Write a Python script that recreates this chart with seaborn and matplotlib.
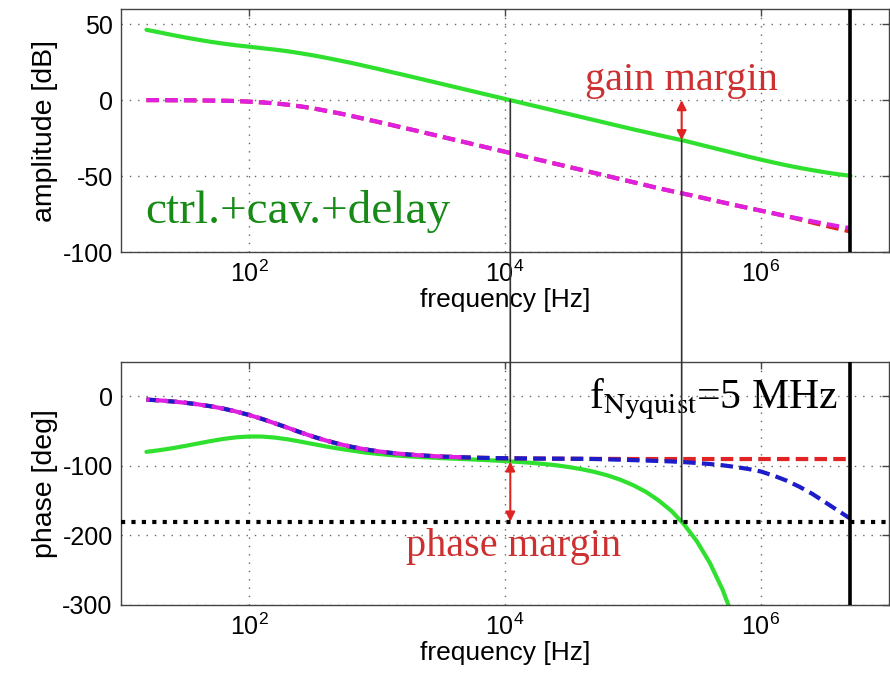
import numpy as np
import pandas as pd
import matplotlib
matplotlib.use("Agg")
import matplotlib.pyplot as plt
import matplotlib.ticker as mticker
from matplotlib.patches import ConnectionPatch
import seaborn as sns

# Frequency grid [Hz]
freq_hz = [15.8, 20.0, 25.1, 31.6, 39.8, 50.1, 63.1, 79.4,
           100, 126, 158, 200, 251, 316, 398, 501, 631, 794,
           1000, 1259, 1585, 1995, 2512, 3162, 3981, 5012, 6310, 7943,
           1.0e4, 1.26e4, 1.58e4, 2.0e4, 2.51e4, 3.16e4, 3.98e4, 5.01e4, 6.31e4, 7.94e4,
           1.0e5, 1.26e5, 1.58e5, 2.0e5, 2.51e5, 3.16e5, 3.98e5, 5.01e5, 6.31e5, 7.94e5,
           1.0e6, 1.26e6, 1.58e6, 2.0e6, 2.51e6, 3.16e6, 3.98e6, 5.0e6]

# Amplitude [dB]
amp_open_loop = [46.3, 44.6, 42.9, 41.3, 39.8, 38.4, 37.2, 36.1,
                 35.2, 34.2, 33.3, 32.2, 30.9, 29.5, 27.9, 26.2, 24.5, 22.6,
                 20.7, 18.7, 16.8, 14.8, 12.8, 10.8, 8.8, 6.8, 4.8, 2.8,
                 0.8, -1.2, -3.2, -5.2, -7.2, -9.2, -11.2, -13.2, -15.2, -17.2,
                 -19.2, -21.1, -23.0, -24.9, -26.7, -28.8, -30.9, -33.0, -35.1, -37.2,
                 -39.2, -41.1, -42.9, -44.6, -46.1, -47.5, -48.8, -49.8]
amp_cav_sampled = [0.0, 0.0, -0.1, -0.1, -0.2, -0.3, -0.4, -0.6,
                   -1.0, -1.5, -2.1, -3.0, -4.1, -5.4, -7.0, -8.6, -10.4, -12.3,
                   -14.2, -16.1, -18.1, -20.0, -22.0, -24.0, -26.0, -28.0, -30.0, -32.0,
                   -34.0, -36.0, -38.0, -40.0, -42.0, -44.0, -46.0, -48.0, -50.0, -52.0,
                   -54.0, -56.0, -58.0, -59.9, -61.7, -63.5, -65.4, -67.3, -69.2, -71.0,
                   -72.8, -74.6, -76.4, -78.1, -79.8, -81.4, -83.0, -84.3]
amp_cav = [0.0, 0.0, -0.1, -0.1, -0.2, -0.3, -0.4, -0.6,
           -1.0, -1.5, -2.1, -3.0, -4.1, -5.4, -7.0, -8.6, -10.4, -12.3,
           -14.2, -16.1, -18.1, -20.0, -22.0, -24.0, -26.0, -28.0, -30.0, -32.0,
           -34.0, -36.0, -38.0, -40.0, -42.0, -44.0, -46.0, -48.0, -50.0, -52.0,
           -54.0, -56.0, -58.0, -59.9, -61.7, -63.5, -65.4, -67.3, -69.2, -71.0,
           -72.8, -74.6, -76.4, -78.5, -80.6, -82.6, -84.6, -86.5]

# Phase [deg]
phase_cav = [-4.5, -5.7, -7.2, -9.0, -11.3, -14.1, -17.5, -21.7,
             -26.6, -32.2, -38.4, -44.9, -51.5, -57.7, -63.3, -68.2, -72.4, -75.9,
             -78.7, -81.0, -82.8, -84.3, -85.4, -86.4, -87.1, -87.7, -88.2, -88.6,
             -88.9, -89.1, -89.3, -89.4, -89.5, -89.6, -89.7, -89.8, -89.8, -89.9,
             -90.0, -90.0, -90.0, -90.0, -90.0, -90.0, -90.0, -90.0, -90.0, -90.0,
             -90.0, -90.0, -90.0, -90.0, -90.0, -90.0, -90.0, -90.0]
phase_cav_delay = [-4.5, -5.7, -7.2, -9.0, -11.3, -14.1, -17.5, -21.7,
                   -26.6, -32.2, -38.4, -44.9, -51.5, -57.7, -63.3, -68.2, -72.4, -75.9,
                   -78.7, -81.0, -82.8, -84.3, -85.4, -86.4, -87.1, -87.7, -88.2, -88.6,
                   -88.9, -89.1, -89.3, -89.4, -89.5, -89.6, -89.7, -90.0, -90.5, -91.0,
                   -91.6, -92.2, -92.8, -93.5, -94.5, -95.7, -97.2, -99.0, -101.4, -104.3,
                   -108.0, -114.0, -121.0, -130.0, -140.0, -152.0, -164.0, -176.0]
phase_cav_sampled = [-4.5, -5.7, -7.2, -9.0, -11.3, -14.1, -17.5, -21.7,
                     -26.6, -32.2, -38.4, -44.9, -51.5, -57.7, -63.3, -68.2, -72.4, -75.9,
                     -78.7, -81.0, -82.8, -84.3, -85.4, -86.4, -87.1, -87.7]
phase_open_loop = [-79.7, -77.3, -74.5, -71.2, -67.7, -64.2, -61.1, -58.8,
                   -57.6, -57.7, -59.1, -61.6, -64.9, -68.4, -71.9, -75.0, -77.8, -80.5,
                   -82.5, -84.2, -85.6, -86.8, -87.7, -88.7, -89.5, -90.3, -91.1, -92.0,
                   -93.0, -94.1, -95.4, -97.1, -99.0, -101.6, -104.7, -108.6, -113.5, -119.7,
                   -127.5, -137.2, -149.4, -164.8, -184.2, -208.6, -239.3, -278.0, -326.6]

# Stability margins
f_gain_cross = 1.1e4       # |L| = 0 dB
phase_at_gain_cross = -93.5
f_phase_cross = 2.4e5      # arg L = -180 deg
amp_at_phase_cross = -26.4
f_nyquist = 5.0e6

amp_ticks = [-100, -50, 0, 50]
phase_ticks = [-300, -200, -100, 0]
freq_ticks = [1e2, 1e4, 1e6]

GREEN = "#2fe02f"
MAGENTA = "#e020e0"
RED = "#e02424"
BLUE = "#1c1cc8"
TEXT_RED = "#cc3030"
TEXT_GREEN = "#178a17"
DASH = (0, (3, 1.5))

sns.set_theme(style="white")
plt.rcParams["font.family"] = ["Liberation Sans", "DejaVu Sans"]
plt.rcParams["axes.unicode_minus"] = False
plt.rcParams["mathtext.fontset"] = "custom"
plt.rcParams["mathtext.rm"] = "Liberation Sans"
plt.rcParams["mathtext.it"] = "Liberation Sans"
plt.rcParams["mathtext.default"] = "regular"
plt.rcParams["text.color"] = "black"
plt.rcParams["axes.labelcolor"] = "black"
plt.rcParams["xtick.labelcolor"] = "black"
plt.rcParams["ytick.labelcolor"] = "black"

fig = plt.figure(figsize=(8.9, 6.79), dpi=100)
ax1 = fig.add_axes([121 / 890, 1 - 252 / 679, 768 / 890, 243 / 679])
ax2 = fig.add_axes([121 / 890, 1 - 605 / 679, 768 / 890, 243.3 / 679])


def dec_fmt(v, pos):
    return r"$\mathregular{10^{%d}}$" % int(round(np.log10(v)))


for ax in (ax1, ax2):
    ax.set_xscale("log")
    ax.set_xlim(10, 1e7)
    ax.xaxis.set_major_locator(mticker.FixedLocator(freq_ticks))
    ax.xaxis.set_minor_locator(mticker.NullLocator())
    ax.xaxis.set_major_formatter(mticker.FuncFormatter(dec_fmt))
    ax.grid(True, which="major", color="#666666", lw=1.0, linestyle=(0, (1, 5)))
    ax.tick_params(direction="in", top=True, right=True, length=5, width=1,
                   labelsize=18, color="#444444", labelcolor="black", pad=6)
    for s in ax.spines.values():
        s.set_color("#444444")
        s.set_linewidth(1.0)
    ax.set_xlabel("frequency [Hz]", fontsize=19, labelpad=1, color="black")
    ax.axvline(f_nyquist, color="black", lw=2.6, zorder=6)

# Amplitude panel
sns.lineplot(x=freq_hz, y=amp_open_loop, ax=ax1, color=GREEN, lw=3, sort=False,
             estimator=None, zorder=3)
sns.lineplot(x=freq_hz, y=amp_cav, ax=ax1, color=RED, lw=3, linestyle=DASH,
             sort=False, estimator=None, zorder=3)
sns.lineplot(x=freq_hz, y=amp_cav_sampled, ax=ax1, color=MAGENTA, lw=3, linestyle=DASH,
             sort=False, estimator=None, zorder=4)
ax1.set_ylim(-100, 60)
ax1.set_yticks(amp_ticks)
ax1.set_ylabel("amplitude [dB]", fontsize=20.5, labelpad=3, color="black")

# Phase panel
sns.lineplot(x=freq_hz[:len(phase_open_loop)], y=phase_open_loop, ax=ax2, color=GREEN,
             lw=3, sort=False, estimator=None, zorder=2)
sns.lineplot(x=freq_hz, y=phase_cav, ax=ax2, color=RED, lw=3, linestyle=DASH,
             sort=False, estimator=None, zorder=3)
sns.lineplot(x=freq_hz, y=phase_cav_delay, ax=ax2, color=BLUE, lw=3, linestyle=DASH,
             sort=False, estimator=None, zorder=4)
sns.lineplot(x=freq_hz[:len(phase_cav_sampled)], y=phase_cav_sampled, ax=ax2,
             color=MAGENTA, lw=3, linestyle=(2.25, (3, 1.5)), sort=False,
             estimator=None, zorder=5)
ax2.axhline(-180, color="black", lw=3, linestyle=(0, (1, 1.5)), zorder=5)
ax2.set_ylim(-300, 50)
ax2.set_yticks(phase_ticks)
ax2.set_ylabel("phase [deg]", fontsize=20.5, labelpad=3, color="black")

# Margin arrows
arrow = dict(arrowstyle="<|-|>", color=RED, lw=1.5, mutation_scale=14,
             shrinkA=0, shrinkB=0)
ax1.annotate("", xy=(f_phase_cross, 0), xytext=(f_phase_cross, amp_at_phase_cross),
             arrowprops=arrow, zorder=7)
ax2.annotate("", xy=(f_gain_cross, phase_at_gain_cross), xytext=(f_gain_cross, -180),
             arrowprops=arrow, zorder=7)

# Crossover guide lines spanning both panels
for xa, ya, yb in [(f_gain_cross, 0, phase_at_gain_cross),
                   (f_phase_cross, amp_at_phase_cross, -180)]:
    con = ConnectionPatch(xyA=(xa, ya), coordsA=ax1.transData,
                          xyB=(xa, yb), coordsB=ax2.transData,
                          color="#333333", lw=1.2, zorder=8)
    fig.add_artist(con)

# Annotations
ax1.text(15.5, -81, "ctrl.+cav.+delay", color=TEXT_GREEN, fontsize=34,
         family="Liberation Serif", ha="left", va="baseline", zorder=9)
ax1.text(f_phase_cross, 6.6, "gain margin", color=TEXT_RED, fontsize=29,
         family="Liberation Serif", ha="center", va="baseline", zorder=9)
ax2.text(f_gain_cross * 1.06, -230, "phase margin", color=TEXT_RED, fontsize=29,
         family="Liberation Serif", ha="center", va="baseline", zorder=9)
ax2.text(3.94e6, -16.7, r"f$_{\mathrm{Nyquist}}$=5 MHz", color="black", fontsize=30,
         family="Liberation Serif", math_fontfamily="stix", ha="right",
         va="baseline", zorder=9)

fig.savefig("out.png", dpi=100)
